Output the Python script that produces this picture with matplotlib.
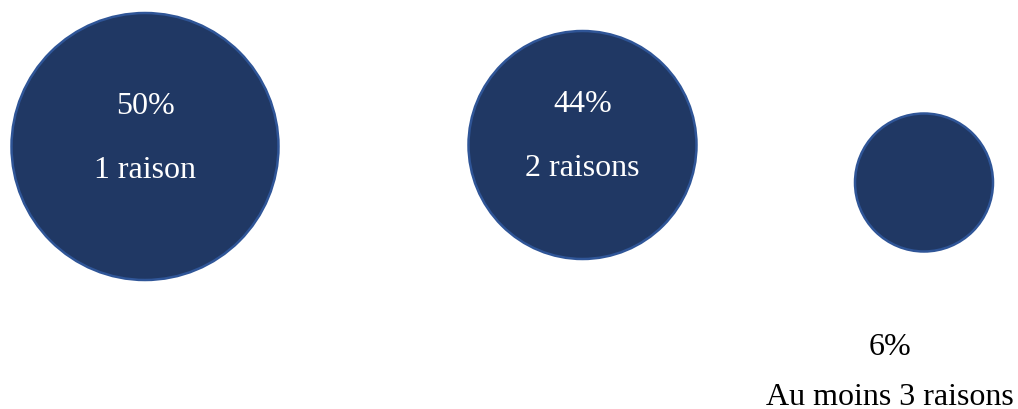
import matplotlib
matplotlib.use("Agg")
import matplotlib.pyplot as plt
from matplotlib.patches import Circle

# Share of respondents by number of reasons given
shares = [50, 44, 6]
labels = ["1 raison", "2 raisons", "Au moins 3 raisons"]

# Bubble layout (canvas units, origin at top-left)
centers_x = [145, 582.5, 924]
centers_y = [147.5, 146, 183.5]
radii = [133.5, 114, 69]

FILL = "#203864"
EDGE = "#2F5597"
FONT = ["Liberation Serif", "DejaVu Serif"]
SIZE = 23
W, H = 1018, 410

fig = plt.figure(figsize=(W / 100, H / 100), dpi=100)
ax = fig.add_axes([0, 0, 1, 1])
ax.set_xlim(0, W)
ax.set_ylim(H, 0)
ax.set_aspect("equal")
ax.axis("off")

for i, (share, label) in enumerate(zip(shares, labels)):
    cx, cy, r = centers_x[i], centers_y[i], radii[i]
    ax.add_patch(Circle((cx, cy), r, facecolor=FILL, edgecolor=EDGE, linewidth=1.8))
    if r > 100:
        ax.text(cx, cy - 41, f"{share}%", ha="center", va="center",
                color="white", fontsize=SIZE, family=FONT)
        ax.text(cx, cy + 23, label, ha="center", va="center",
                color="white", fontsize=SIZE, family=FONT)
    else:
        ax.text(890, 348, f"{share}%", ha="center", va="center",
                color="black", fontsize=SIZE, family=FONT)
        ax.text(890, 405, label, ha="center", va="baseline",
                color="black", fontsize=SIZE, family=FONT)

fig.savefig("out.png", dpi=100, facecolor="white")
